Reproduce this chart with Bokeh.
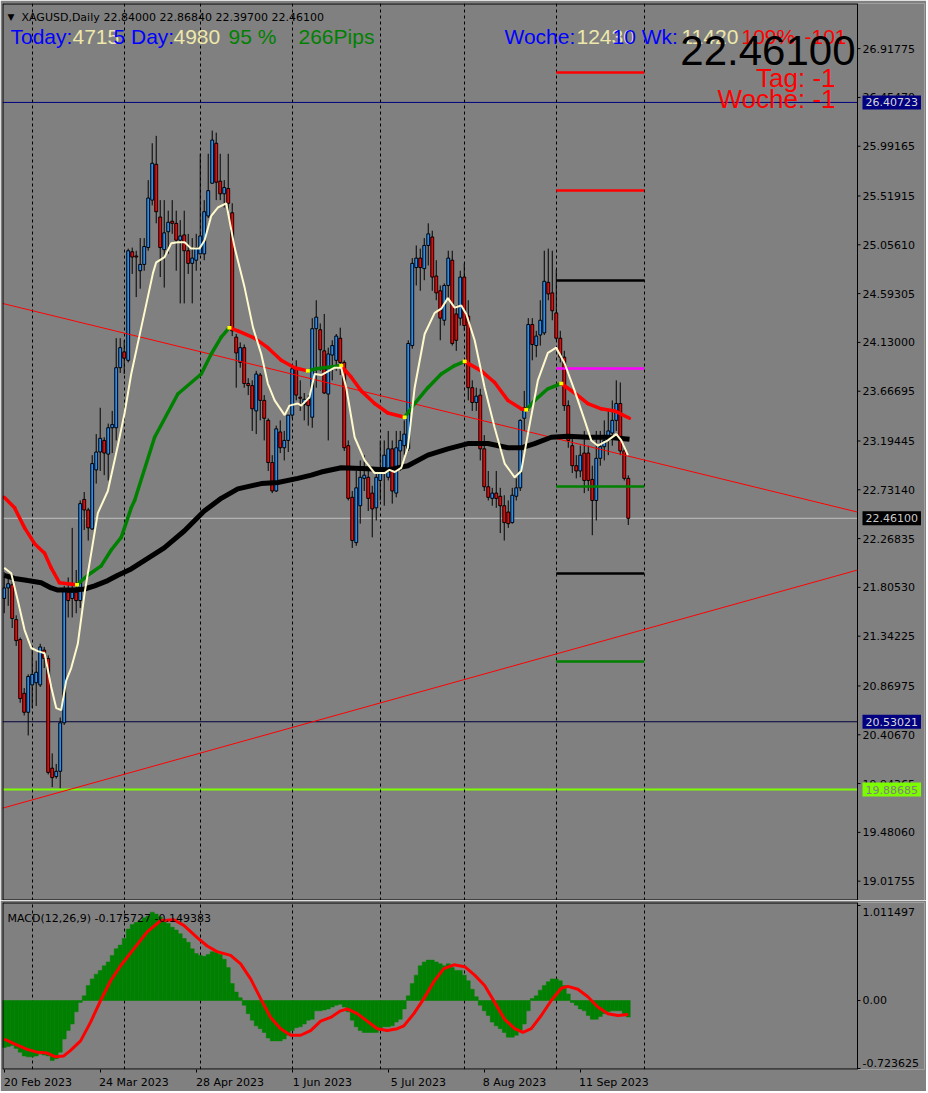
import numpy as np
from bokeh.plotting import figure
from bokeh.models import (Range1d, FixedTicker, Label, Span, Grid, LinearAxis,
                          PrintfTickFormatter, CustomJSTickFormatter)
from bokeh.layouts import column
from bokeh.embed import file_html
from bokeh.resources import INLINE

# ---------------- data ----------------
opens = [21.70, 21.80, 21.83, 21.50, 21.31, 20.80, 20.62, 20.88, 20.90, 20.88,
         21.21, 21.13, 20.09, 20.01, 20.06, 20.52, 21.76, 21.70, 21.76, 21.68,
         22.64, 22.54, 22.36, 22.92, 23.09, 23.20, 23.07, 23.32, 23.32, 23.89,
         24.04, 23.96, 24.99, 24.95, 24.81, 24.87, 25.03, 25.48, 25.82, 25.32,
         25.01, 25.18, 25.28, 25.26, 25.10, 25.15, 25.00, 24.88, 24.91, 24.97,
         24.97, 25.33, 25.64, 26.02, 25.66, 25.54, 25.59, 25.36, 24.18, 23.94,
         24.08, 23.74, 23.72, 23.48, 23.82, 23.58, 23.39, 22.99, 22.72, 23.28,
         23.13, 23.20, 23.44, 23.88, 23.61, 23.54, 23.59, 23.42, 24.26, 24.25,
         24.05, 23.64, 24.01, 23.96, 24.17, 23.94, 23.15, 22.66, 22.23, 22.58,
         22.84, 22.85, 22.70, 22.56, 22.82, 22.94, 22.85, 23.12, 22.70, 23.10,
         23.15, 23.12, 24.10, 24.84, 24.93, 24.83, 25.05, 25.13, 24.76, 24.62,
         24.34, 24.67, 24.91, 24.40, 24.36, 24.75, 24.38, 23.70, 23.56, 23.63,
         23.12, 22.76, 22.65, 22.70, 22.67, 22.58, 22.52, 22.42, 22.67, 22.75,
         23.41, 23.51, 24.30, 24.10, 24.20, 24.22, 24.70, 24.60, 24.41, 24.17,
         23.99, 23.53, 23.15, 22.96, 22.91, 23.08, 23.08, 22.83, 22.63, 23.03,
         23.14, 23.20, 23.27, 23.39, 23.55, 23.10, 22.84]
highs = [21.95, 21.90, 21.87, 21.54, 21.33, 20.85, 20.98, 21.21, 21.11, 21.27,
         21.24, 21.16, 20.23, 20.13, 20.57, 21.82, 21.90, 22.37, 21.97, 22.63,
         22.71, 22.56, 23.06, 23.26, 23.51, 23.23, 23.36, 23.48, 24.17, 24.17,
         24.15, 25.02, 25.03, 25.00, 25.12, 25.12, 25.67, 26.02, 26.09, 25.48,
         25.48, 25.38, 25.48, 25.38, 25.29, 25.38, 25.16, 25.12, 25.16, 25.92,
         25.48, 25.92, 26.14, 26.12, 25.92, 25.67, 25.92, 25.45, 24.21, 24.13,
         24.11, 23.79, 23.77, 23.86, 23.84, 23.63, 23.41, 23.06, 23.34, 23.39,
         23.29, 23.44, 23.91, 23.96, 23.77, 23.65, 23.63, 24.36, 24.53, 24.31,
         24.40, 24.08, 24.15, 24.21, 24.27, 23.96, 23.20, 22.72, 22.91, 23.01,
         23.06, 22.91, 22.77, 22.91, 23.20, 23.20, 23.29, 23.20, 23.29, 23.29,
         23.39, 24.15, 24.93, 25.05, 25.02, 25.12, 25.26, 25.19, 24.91, 24.67,
         24.69, 25.00, 25.00, 24.48, 24.81, 24.88, 24.53, 23.77, 23.70, 23.69,
         23.25, 22.91, 22.75, 22.91, 22.75, 22.68, 22.63, 22.75, 22.84, 23.40,
         23.67, 24.36, 24.36, 24.24, 24.53, 25.00, 25.02, 25.00, 24.82, 24.24,
         24.05, 23.58, 23.23, 23.06, 23.15, 23.29, 23.15, 22.96, 23.29, 23.29,
         23.39, 23.48, 23.58, 23.77, 23.75, 23.15, 22.8684]
lows = [21.56, 21.63, 21.42, 21.25, 20.71, 20.59, 20.40, 20.66, 20.68, 20.86,
        21.04, 20.03, 19.91, 19.99, 19.90, 20.50, 21.52, 21.52, 21.56, 21.61,
        22.35, 22.25, 22.35, 22.79, 22.91, 22.87, 22.82, 23.08, 23.20, 23.84,
        23.83, 23.94, 24.78, 24.56, 24.64, 24.81, 25.00, 25.43, 25.26, 24.75,
        24.65, 24.97, 25.16, 24.81, 24.50, 24.50, 24.78, 24.50, 24.81, 24.97,
        24.91, 25.31, 25.64, 25.48, 25.48, 25.41, 25.38, 24.19, 23.70, 23.89,
        23.70, 23.63, 23.29, 23.26, 23.39, 23.20, 22.91, 22.70, 22.71, 23.08,
        23.01, 23.09, 23.41, 23.58, 23.48, 23.39, 23.34, 23.32, 23.70, 23.86,
        23.64, 23.20, 23.77, 23.86, 23.82, 23.10, 22.63, 22.18, 22.20, 22.41,
        22.72, 22.53, 22.28, 22.44, 22.63, 22.58, 22.82, 22.60, 22.66, 22.91,
        23.06, 23.10, 24.07, 24.67, 24.62, 24.72, 24.86, 24.62, 24.53, 24.15,
        24.29, 24.53, 24.10, 24.05, 24.29, 24.24, 23.58, 23.48, 23.48, 23.01,
        22.72, 22.63, 22.58, 22.56, 22.32, 22.25, 22.37, 22.41, 22.63, 22.72,
        23.29, 23.48, 23.96, 23.99, 24.10, 24.20, 24.53, 24.34, 24.15, 23.94,
        23.48, 23.13, 22.89, 22.84, 22.85, 22.70, 22.72, 22.30, 22.44, 22.96,
        23.01, 23.06, 23.15, 23.29, 23.06, 22.82, 22.397]
closes = [21.80, 21.84, 21.51, 21.30, 20.75, 20.62, 20.96, 20.98, 21.00, 21.24,
          21.13, 20.05, 20.00, 20.06, 20.52, 21.79, 21.68, 21.76, 21.68, 22.60,
          22.54, 22.37, 22.98, 23.09, 23.22, 23.08, 23.32, 23.35, 23.89, 24.08,
          23.98, 25.00, 24.94, 24.94, 24.87, 25.04, 25.50, 25.83, 25.37, 25.03,
          25.17, 25.27, 25.26, 25.10, 25.14, 25.00, 24.88, 24.93, 25.03, 25.14,
          25.37, 25.57, 26.05, 25.65, 25.54, 25.60, 25.45, 24.24, 24.03, 24.08,
          23.74, 23.72, 23.50, 23.83, 23.58, 23.41, 22.99, 22.72, 23.31, 23.13,
          23.20, 23.44, 23.88, 23.63, 23.60, 23.59, 23.53, 24.26, 24.37, 24.06,
          23.65, 24.02, 24.10, 24.19, 23.94, 23.13, 22.65, 22.25, 22.75, 22.85,
          22.87, 22.65, 22.55, 22.85, 22.94, 23.06, 23.12, 22.72, 23.13, 23.20,
          23.26, 24.12, 24.88, 24.93, 24.84, 25.05, 25.16, 24.75, 24.60, 24.36,
          24.67, 24.93, 24.12, 24.15, 24.75, 24.29, 23.70, 23.56, 23.62, 23.12,
          22.76, 22.66, 22.70, 22.65, 22.58, 22.42, 22.41, 22.68, 22.75, 23.39,
          23.51, 24.30, 24.11, 24.19, 24.34, 24.71, 24.59, 24.43, 24.17, 23.99,
          23.53, 23.20, 22.96, 22.91, 23.06, 22.82, 22.82, 22.63, 23.03, 23.14,
          23.20, 23.29, 23.39, 23.55, 23.10, 22.84, 22.461]

# fast MA (cream) read at bar positions
cream_bars = [0, 1.75, 3.4, 5.1, 6.75, 8.4, 10.1, 11.75, 13, 14.25,
              15.5, 16.75, 18.4, 20.1, 21.75, 23.4, 25.9, 28.4, 30.1, 31.75,
              34.25, 35.9, 37.2, 38, 40.1, 41.75, 43.4, 45.1, 46.75, 48.8,
              50.1, 51.75, 53.4, 55.5, 56.3, 57.6, 60.1, 62.2, 64.25, 65.9,
              67.6, 70.1, 71.3, 73.4, 74.25, 76.3, 77.6, 79.25, 82.6, 84.25,
              85.5, 87.6, 90.1, 92.6, 95.1, 96.3, 97.6, 99.25, 100.9, 102.6,
              105.1, 107.6, 109.25, 110.9, 112.6, 114.25, 115.5, 117.6, 120.1, 122.6,
              125.1, 127.6, 129.25, 130.9, 133.4, 135.9, 138, 140.1, 142.6, 145.1,
              146.75, 148.4, 150.9, 153, 154.25, 155.9]
cream_vals = [21.99, 21.94, 21.68, 21.40, 21.23, 21.20, 21.18, 20.86, 20.66, 20.64,
              20.92, 21.04, 21.27, 21.75, 22.13, 22.51, 22.72, 23.15, 23.46, 23.83,
              24.27, 24.56, 24.79, 24.89, 24.94, 25.07, 25.08, 25.08, 25.02, 25.02,
              25.10, 25.33, 25.41, 25.45, 25.29, 25.03, 24.65, 24.27, 24.02, 23.74,
              23.58, 23.44, 23.53, 23.55, 23.53, 23.61, 23.83, 23.82, 23.89, 23.89,
              23.70, 23.23, 23.01, 22.89, 22.89, 22.92, 22.90, 22.94, 23.13, 23.70,
              24.21, 24.41, 24.45, 24.55, 24.46, 24.48, 24.40, 24.15, 23.70, 23.32,
              22.98, 22.85, 22.91, 23.26, 23.77, 24.03, 24.08, 23.93, 23.67, 23.39,
              23.20, 23.15, 23.20, 23.26, 23.20, 23.06]

# middle MA (green / red by slope)
slow_bars = [0, 2.6, 5.1, 7.6, 10.1, 11.75, 13.8, 15.9, 18.2, 20.9,
             24.25, 26.75, 29.25, 31.75, 32.6, 37.6, 43.4, 49.25, 51.75, 54.25,
             56.3, 58.4, 62.6, 65.9, 69.25, 72.6, 75.9, 78, 80, 82,
             84.25, 86.75, 89.25, 92.6, 95.9, 100.1, 102.6, 105.9, 109.25, 112.6,
             115.1, 119.25, 122.6, 125.9, 129.25, 130.5, 132.6, 135.9, 139.25, 142.6,
             145.9, 149.25, 152.6, 156.3]
slow_vals = [22.66, 22.56, 22.37, 22.22, 22.13, 21.99, 21.85, 21.84, 21.83, 21.92,
             22.01, 22.16, 22.28, 22.56, 22.63, 23.23, 23.64, 23.83, 24.02, 24.18,
             24.27, 24.24, 24.17, 24.08, 23.96, 23.89, 23.86, 23.88, 23.89, 23.90,
             23.91, 23.80, 23.67, 23.55, 23.46, 23.42, 23.55, 23.70, 23.83, 23.91,
             23.95, 23.86, 23.75, 23.58, 23.50, 23.49, 23.58, 23.69, 23.74, 23.65,
             23.55, 23.50, 23.48, 23.41]

# long MA (black)
black_bars = [0, 2.6, 5.9, 9.25, 11.75, 13.4, 17.6, 20.1, 22.6, 25.9,
              28.4, 31.75, 35, 40, 45, 50, 54.25, 58.4, 64.25, 68.4,
              73.4, 76.75, 79.25, 84.25, 90.9, 95.9, 100.9, 105.9, 110.9, 115.9,
              120.9, 125.9, 129.25, 132.6, 136.75, 140.9, 145.9, 150.9, 156.3]
black_vals = [21.92, 21.89, 21.87, 21.85, 21.80, 21.78, 21.78, 21.79, 21.82, 21.87,
              21.92, 21.98, 22.06, 22.18, 22.34, 22.53, 22.65, 22.74, 22.79, 22.80,
              22.84, 22.87, 22.90, 22.94, 22.93, 22.92, 22.96, 23.06, 23.12, 23.17,
              23.17, 23.13, 23.13, 23.17, 23.23, 23.24, 23.23, 23.23, 23.21]

# trend lines (bar, price anchors)
trend_bars = [-0.425, 213.3]
trend_down = [24.50, 22.52]
trend_up = [19.71, 21.97]

# horizontal price lines
line_navy_top = 26.40723
line_navy_low = 20.53021
line_green = 19.88685
line_bid = 22.46100
# short level segments (right side)
level_prices = [26.691, 25.571, 24.717, 23.882, 22.762, 21.937, 21.102]
level_start_bar = 138
level_end_bar = 160

# MACD histogram and signal
macd_hist = [-0.50, -0.49, -0.48, -0.51, -0.55, -0.59, -0.60, -0.60, -0.59, -0.57,
             -0.58, -0.59, -0.64, -0.62, -0.55, -0.41, -0.32, -0.25, -0.12, -0.02,
             0.05, 0.16, 0.23, 0.28, 0.32, 0.37, 0.41, 0.48, 0.55, 0.59,
             0.66, 0.76, 0.81, 0.83, 0.85, 0.88, 0.90, 0.94, 0.92, 0.89,
             0.85, 0.82, 0.78, 0.75, 0.71, 0.66, 0.62, 0.55, 0.50, 0.48,
             0.47, 0.49, 0.52, 0.51, 0.49, 0.44, 0.35, 0.18, 0.09, 0.03,
             -0.05, -0.14, -0.21, -0.27, -0.30, -0.34, -0.40, -0.43, -0.43, -0.43,
             -0.41, -0.37, -0.32, -0.29, -0.28, -0.25, -0.21, -0.20, -0.11, -0.11,
             -0.10, -0.09, -0.07, -0.05, -0.04, -0.07, -0.12, -0.21, -0.28, -0.32,
             -0.34, -0.34, -0.34, -0.34, -0.32, -0.28, -0.28, -0.27, -0.23, -0.20,
             -0.09, 0.05, 0.18, 0.27, 0.37, 0.41, 0.43, 0.43, 0.41, 0.39,
             0.37, 0.39, 0.35, 0.32, 0.32, 0.27, 0.21, 0.12, 0.04, -0.05,
             -0.11, -0.16, -0.23, -0.27, -0.30, -0.34, -0.39, -0.39, -0.37, -0.32,
             -0.25, -0.11, 0.02, 0.05, 0.11, 0.16, 0.20, 0.23, 0.23, 0.21,
             0.16, 0.07, -0.02, -0.05, -0.09, -0.11, -0.16, -0.20, -0.20, -0.17,
             -0.14, -0.12, -0.11, -0.11, -0.11, -0.14, -0.176]
sig_bars = [0, 2.4, 5.75, 8.25, 10.75, 12.8, 14.9, 16.6, 19.1, 21.6,
            24.1, 26.6, 29.1, 32.4, 35.75, 39.1, 42.4, 44.9, 48.25, 50.75,
            53.2, 56.6, 59.1, 61.6, 64.1, 66.6, 69.1, 71.6, 74.1, 76.6,
            79.1, 81.6, 84.1, 85.75, 88.25, 90.75, 93.25, 95.75, 98.25, 99.9,
            102.4, 104.9, 107.4, 109.9, 112.4, 115.1, 117.6, 120.1, 122.6, 125.1,
            127.6, 129.65, 131.75, 134.25, 136.75, 139.25, 140.9, 143.4, 145.9, 148.4,
            150.9, 153.4, 156]
sig_vals = [-0.41, -0.46, -0.52, -0.55, -0.56, -0.60, -0.59, -0.53, -0.43, -0.23,
            0.00, 0.21, 0.37, 0.55, 0.73, 0.85, 0.86, 0.80, 0.67, 0.58,
            0.52, 0.48, 0.39, 0.23, 0.02, -0.18, -0.30, -0.37, -0.37, -0.32,
            -0.22, -0.18, -0.11, -0.09, -0.14, -0.22, -0.30, -0.32, -0.30, -0.27,
            -0.14, 0.02, 0.20, 0.34, 0.38, 0.36, 0.27, 0.16, -0.02, -0.20,
            -0.30, -0.34, -0.30, -0.16, 0.00, 0.13, 0.15, 0.12, 0.04, -0.07,
            -0.14, -0.16, -0.149]

price_ticks = [26.91775, 26.45470, 25.99165, 25.51915, 25.05610, 24.59305, 24.13000,
               23.66695, 23.19445, 22.73140, 22.26835, 21.80530, 21.34225, 20.86975,
               20.40670, 19.94365, 19.48060, 19.01755]
macd_ticks = [1.011497, 0.0, -0.723625]
macd_tick_labels = ["1.011497", "0.00", "-0.723625"]
grid_bars = [7, 30, 49, 72, 94, 115, 138, 160]
date_bars = [0, 24, 48, 72, 96, 120, 144]
date_labels = ["20 Feb 2023", "24 Mar 2023", "28 Apr 2023", "1 Jun 2023",
               "5 Jul 2023", "8 Aug 2023", "11 Sep 2023"]

# ---------------- layout / style ----------------
BG = "#808080"
PPB = 4.0005            # pixels per bar
X0 = -0.425             # left frame edge (bar units)
AX = 213.3              # position of the price scale line (bar units)
FWX = 922               # frame width incl. the price-scale strip
XE = X0 + FWX / PPB
Y0, Y1 = 18.834, 27.346
MQ_LO, MQ_HI = -0.7345, 1.0432
FH_MAIN = 897
FH_MACD = 167
AXFONT = "DejaVu Sans"
CREAM_TXT = "#EEE8AA"
LABEL_STANDOFF = -62


def base_fig(fh, yr, top, xloc):
    f = figure(frame_width=FWX, frame_height=fh, x_range=Range1d(X0, XE),
               y_range=Range1d(*yr), output_backend="svg", toolbar_location=None,
               y_axis_location="right", x_axis_location=xloc,
               min_border_left=2, min_border_right=2,
               min_border_top=top, min_border_bottom=0)
    f.background_fill_color = BG
    f.border_fill_color = BG
    f.outline_line_color = None
    f.grid.visible = False
    f.add_layout(Grid(dimension=0, ticker=FixedTicker(ticks=grid_bars),
                      grid_line_color="black", grid_line_dash="3 3",
                      grid_line_width=1))
    ax = f.yaxis[0]
    ax.axis_line_color = None
    ax.major_tick_line_color = None
    ax.major_tick_out = 0
    ax.major_tick_in = 0
    ax.minor_tick_line_color = None
    ax.major_label_standoff = LABEL_STANDOFF
    ax.major_label_text_font = AXFONT
    ax.major_label_text_font_size = "11px"
    ax.major_label_text_color = "black"
    # chart border (left, top, bottom) and scale line
    f.add_layout(Span(location=X0, dimension="height", line_color="black", line_width=2))
    f.add_layout(Span(location=AX, dimension="height", line_color="black", line_width=1))
    f.segment(x0=[X0, X0], y0=[yr[0], yr[1]], x1=[AX, AX], y1=[yr[0], yr[1]],
              line_color="black", line_width=2)
    return f


def lab(fig, x, y, text, color, size, font="Liberation Sans",
        align="left", baseline="alphabetic", **kw):
    fig.add_layout(Label(x=x, y=y, text=text, text_color=color,
                         text_font_size=f"{size}px", text_font=font,
                         text_align=align, text_baseline=baseline, **kw))


def mx(xr):
    return (xr - 3.7) / PPB


def my(yr):
    return Y1 - (yr - 3) * (Y1 - Y0) / FH_MAIN


def qy(yr):
    return MQ_HI - (yr - 902) * (MQ_HI - MQ_LO) / FH_MACD


# ---------------- main price panel ----------------
p = base_fig(FH_MAIN, (Y0, Y1), 3, None)
p.yaxis[0].ticker = FixedTicker(ticks=price_ticks)
p.yaxis[0].formatter = PrintfTickFormatter(format="%.5f")
p.segment(x0=[AX] * len(price_ticks), y0=price_ticks,
          x1=[AX + 3 / PPB] * len(price_ticks), y1=price_ticks,
          line_color="black", line_width=1)

hl = [line_navy_top, line_navy_low, line_green, line_bid]
p.segment(x0=[X0] * 4, y0=hl, x1=[AX] * 4, y1=hl,
          line_color=["#000080", "#00003C", "#7CFC00", "#C0C0C0"],
          line_width=[1, 1, 2, 1], level="underlay")

o = np.array(opens)
h = np.array(highs)
l = np.array(lows)
c = np.array(closes)
idx = np.arange(len(c))
up = c >= o
hi = np.maximum(h, np.maximum(o, c))
lo = np.minimum(l, np.minimum(o, c))
p.segment(x0=idx, y0=lo, x1=idx, y1=hi, line_color="black", line_width=1)
p.vbar(x=idx, top=np.maximum(o, c), bottom=np.minimum(o, c), width=0.72,
       fill_color=np.where(up, "#1E90FF", "#FF0000").tolist(),
       line_color="black", line_width=1)

level_colors = ["#FF0000", "#FF0000", "#000000", "#FF00FF", "#008000", "#000000", "#008000"]
p.segment(x0=[level_start_bar] * len(level_prices), y0=level_prices,
          x1=[level_end_bar] * len(level_prices), y1=level_prices,
          line_color=level_colors, line_width=2.5)

p.line(trend_bars, trend_down, line_color="#FF0000", line_width=1)
p.line(trend_bars, trend_up, line_color="#FF0000", line_width=1)

p.line(black_bars, black_vals, line_color="black", line_width=5)

sb = np.array(slow_bars)
sv = np.array(slow_vals)
seg_cols = np.where(np.diff(sv) >= 0, "#008000", "#FF0000").tolist()
p.segment(x0=sb[:-1], y0=sv[:-1], x1=sb[1:], y1=sv[1:], line_color=seg_cols,
          line_width=3.5, line_cap="round")
slope = np.sign(np.diff(sv))
turn = [k + 1 for k in range(len(slope) - 1) if slope[k] != slope[k + 1] and slope[k + 1] != 0]
p.segment(x0=sb[turn] - 0.5, y0=sv[turn], x1=sb[turn] + 0.5, y1=sv[turn],
          line_color="#FFFF00", line_width=3.5)

p.line(cream_bars, cream_vals, line_color="#FFFACD", line_width=2)

# header texts
lab(p, mx(7), my(16), "\u25BC", "black", 9, AXFONT)
lab(p, mx(21), my(16.5), "XAGUSD,Daily", "black", 11, AXFONT)
lab(p, mx(103), my(16.5), "22.84000 22.86840 22.39700 22.46100", "black", 11, AXFONT)
lab(p, mx(10), my(36), "Today:", "#0000FF", 21)
lab(p, mx(72), my(36), "4715", CREAM_TXT, 21)
lab(p, mx(113), my(36), "5 Day:", "#0000FF", 21)
lab(p, mx(173), my(36), "4980", CREAM_TXT, 21)
lab(p, mx(228), my(36), "95 %", "#008000", 21)
lab(p, mx(298), my(36), "266Pips", "#008000", 21)
lab(p, mx(504), my(36), "Woche:", "#0000FF", 21)
lab(p, mx(576), my(36), "12430", CREAM_TXT, 21)
lab(p, mx(612), my(36), "10 Wk:", "#0000FF", 21)
lab(p, mx(681), my(36), "11420", CREAM_TXT, 21)
lab(p, mx(741), my(36), "109%", "#FF0000", 21)
lab(p, mx(804), my(36), "-101", "#FF0000", 21)
lab(p, mx(855), my(50), "22.46100", "black", 42, align="right")
lab(p, mx(835), my(77), "Tag: -1", "#FF0000", 26, align="right")
lab(p, mx(835), my(98), "Woche: -1", "#FF0000", 26, align="right")

# price boxes on the right scale
for lvl, bg, fg in [(line_navy_top, "#000080", "#D8D8D8"), (line_bid, "#000000", "#C8C8C8"),
                    (line_navy_low, "#000080", "#D8D8D8"), (line_green, "#7CFC00", "#808080")]:
    lab(p, AX + 5 / PPB, lvl, f"{lvl:.5f}", fg, 11, AXFONT, baseline="middle",
        background_fill_color=bg, padding=3)

# ---------------- MACD panel ----------------
q = base_fig(FH_MACD, (MQ_LO, MQ_HI), 2, "below")
# MT4 draws the extreme scale labels just inside the panel
macd_label_pos = [qy(911), 0.0, qy(1062)]
q.yaxis[0].ticker = FixedTicker(ticks=macd_label_pos)
q.yaxis[0].formatter = CustomJSTickFormatter(args=dict(labels=macd_tick_labels),
                                             code="return labels[index];")
q.segment(x0=[AX] * 3, y0=macd_ticks, x1=[AX + 3 / PPB] * 3, y1=macd_ticks,
          line_color="black", line_width=1)

xa = q.xaxis[0]
xa.ticker = FixedTicker(ticks=date_bars)
xa.formatter = CustomJSTickFormatter(code="return '';")
xa.axis_line_color = None
xa.major_tick_line_color = "black"
xa.major_tick_out = 3
xa.major_tick_in = 0
xa.minor_tick_line_color = None
xa.major_label_standoff = 0
xa.major_label_text_font_size = "0px"


def text_w(s):
    w = 0.0
    for ch in s:
        if ch.isdigit():
            w += 7.0
        elif ch == " ":
            w += 3.5
        else:
            w += 6.6
    return w


label_centers = [b + (text_w(t) / 2 - 0.7) / PPB for b, t in zip(date_bars, date_labels)]
xa2 = LinearAxis(ticker=FixedTicker(ticks=label_centers),
                 formatter=CustomJSTickFormatter(args=dict(labels=date_labels),
                                                 code="return labels[index];"))
xa2.axis_line_color = None
xa2.major_tick_line_color = None
xa2.major_tick_out = 0
xa2.major_tick_in = 0
xa2.minor_tick_line_color = None
xa2.major_label_standoff = 3
xa2.major_label_text_font = AXFONT
xa2.major_label_text_font_size = "11px"
xa2.major_label_text_color = "black"
q.add_layout(xa2, "below")

hist = np.array(macd_hist)
q.vbar(x=np.arange(len(hist)), top=hist, bottom=0, width=1.0,
       fill_color="#008000", line_color="#008000", line_width=0.5)
q.line(sig_bars, sig_vals, line_color="#FF0000", line_width=3)

lab(q, mx(7), qy(918), "MACD(12,26,9) -0.175727 -0.149383", "black", 11, AXFONT)

layout = column(p, q, spacing=0)
open("out.html", "w").write(file_html(layout, INLINE))
